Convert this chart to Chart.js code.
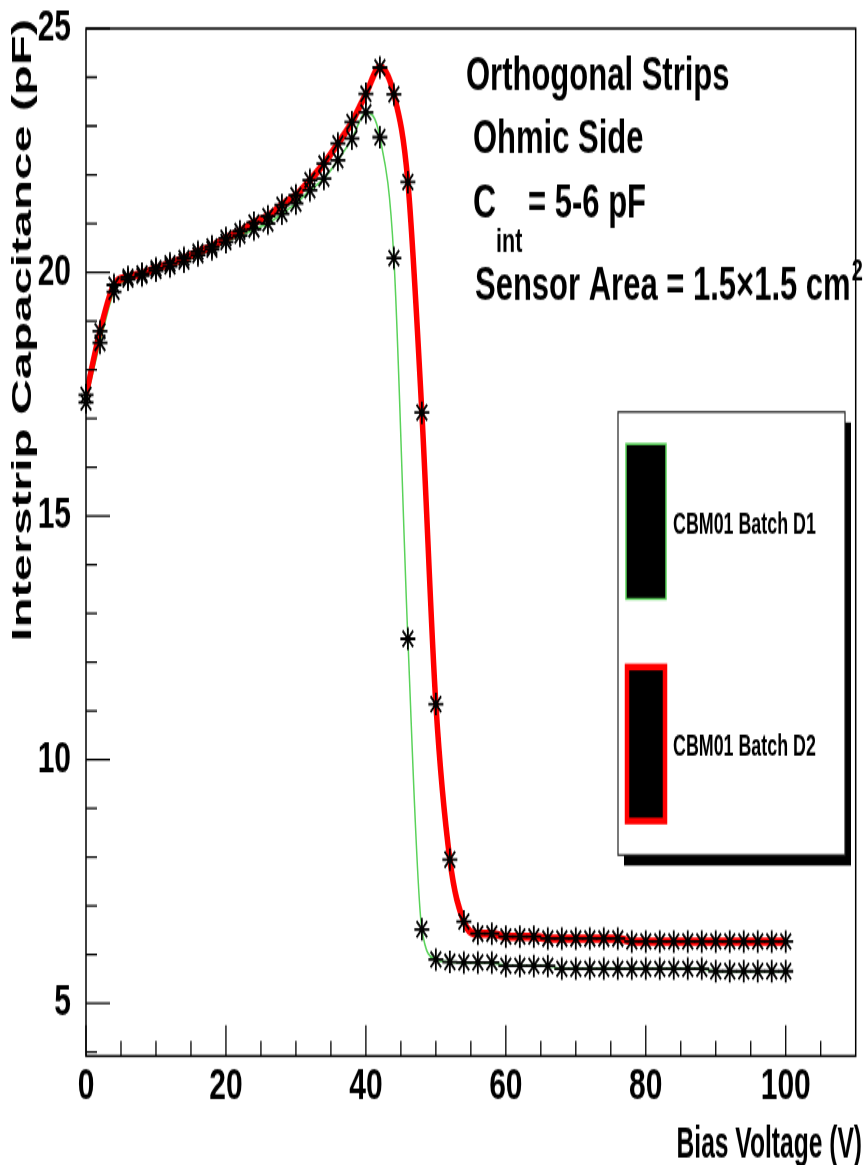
<!DOCTYPE html>
<html>
<head>
<meta charset="utf-8">
<script src="https://cdn.jsdelivr.net/npm/chart.js@4.4.1/dist/chart.umd.min.js"></script>
<style>
  html, body { margin: 0; padding: 0; background: #fff; overflow: hidden; }
  /* the original plot is a vertically stretched picture, so draw it squat and stretch it */
  #wrap { position: absolute; left: 0; top: 0; width: 865px; height: 777px;
          transform-origin: 0 0; transform: scale(1, 1.49936); }
</style>
</head>
<body>
<div id="wrap"><canvas id="c"></canvas></div>
<script>
const voltage = [0, 2, 4, 6, 8, 10, 12, 14, 16, 18, 20, 22, 24, 26, 28, 30, 32, 34, 36, 38,
  40, 42, 44, 46, 48, 50, 52, 54, 56, 58, 60, 62, 64, 66, 68, 70, 72, 74, 76, 78,
  80, 82, 84, 86, 88, 90, 92, 94, 96, 98, 100];

const batchD1 = [17.33, 18.55, 19.60, 19.85, 19.93, 20.03, 20.12, 20.22, 20.35, 20.47,
  20.62, 20.75, 20.88, 21.00, 21.20, 21.41, 21.68, 21.92, 22.30, 22.74,
  23.28, 22.77, 20.29, 12.48, 6.52, 5.90, 5.85, 5.84, 5.84, 5.84,
  5.77, 5.77, 5.77, 5.77, 5.71, 5.71, 5.71, 5.71, 5.71, 5.71,
  5.71, 5.71, 5.71, 5.71, 5.71, 5.66, 5.66, 5.66, 5.66, 5.66, 5.66];

const batchD2 = [17.48, 18.79, 19.74, 19.90, 19.97, 20.08, 20.18, 20.29, 20.42, 20.53,
  20.70, 20.84, 21.02, 21.15, 21.38, 21.58, 21.89, 22.23, 22.64, 23.08,
  23.66, 24.20, 23.65, 21.85, 17.12, 11.14, 7.95, 6.68, 6.43, 6.43,
  6.37, 6.37, 6.37, 6.33, 6.33, 6.33, 6.33, 6.33, 6.33, 6.27,
  6.27, 6.27, 6.27, 6.27, 6.27, 6.27, 6.27, 6.27, 6.27, 6.27, 6.27];

const xTicks = [0, 20, 40, 60, 80, 100];
const xMinorTicks = [5, 10, 15, 25, 30, 35, 45, 50, 55, 65, 70, 75, 85, 90, 95, 105];
const yTicks = [5, 10, 15, 20, 25];
const yMinorTicks = [4, 6, 7, 8, 9, 11, 12, 13, 14, 16, 17, 18, 19, 21, 22, 23, 24];

const seriesNames = ['CBM01 Batch D1', 'CBM01 Batch D2'];
const xTitle = 'Bias Voltage (V)';
const yTitle = 'Interstrip Capacitance (pF)';

const SY = 1165 / 777;          // vertical stretch of the page
const py = v => v / SY;          // page y -> canvas y
const SANS = '"Liberation Sans", Arial, Helvetica, sans-serif';
const NARROW = '"Liberation Sans Narrow", "Arial Narrow", "Liberation Sans", sans-serif';
const GREEN = '#5ad25a';
const RED = '#ff0000';

const pts = ys => voltage.map((v, i) => ({ x: v, y: ys[i] }));

function txt(ctx, s, x, y, size, o = {}) {
  ctx.save();
  ctx.font = 'bold ' + size + 'px ' + SANS;
  ctx.textAlign = o.align || 'left';
  ctx.textBaseline = o.base || 'alphabetic';
  ctx.fillStyle = '#000';
  ctx.translate(x, y);
  if (o.rot) ctx.rotate(o.rot);
  ctx.scale(o.sx || 1, 1);
  ctx.fillText(s, 0, 0);
  const w = ctx.measureText(s).width * (o.sx || 1);
  ctx.restore();
  return w;
}

const decorations = {
  id: 'decorations',
  afterDraw(chart) {
    const { ctx, chartArea: a, scales: { x, y } } = chart;
    ctx.save();
    ctx.strokeStyle = '#000';
    ctx.lineWidth = 1.5;
    ctx.strokeRect(a.left, a.top, a.right - a.left, a.bottom - a.top);

    // ROOT style ticks, pointing into the frame
    ctx.lineWidth = 1.3;
    ctx.beginPath();
    xTicks.concat(xMinorTicks).forEach(v => {
      const xp = x.getPixelForValue(v);
      const len = xTicks.includes(v) ? py(31) : py(15);
      ctx.moveTo(xp, a.bottom);
      ctx.lineTo(xp, a.bottom - len);
    });
    yTicks.concat(yMinorTicks).forEach(v => {
      const yp = y.getPixelForValue(v);
      const len = yTicks.includes(v) ? 24 : 11;
      ctx.moveTo(a.left, yp);
      ctx.lineTo(a.left + len, yp);
    });
    ctx.stroke();
    ctx.restore();

    // info text
    txt(ctx, 'Orthogonal Strips', 466, py(90), 31);
    txt(ctx, 'Ohmic Side', 473, py(153), 31);
    const wc = txt(ctx, 'C', 473, py(217), 32);
    txt(ctx, 'int', 473 + wc, py(252), 21.5);
    txt(ctx, '= 5-6 pF', 528, py(217), 31);
    const ws = txt(ctx, 'Sensor Area = 1.5\u00d71.5 cm', 475, py(300), 31);
    txt(ctx, '2', 475 + ws + 1, py(280), 20);

    // axis titles
    txt(ctx, xTitle, 862, py(1158), 30, { align: 'right', sx: 0.82 });
    txt(ctx, yTitle, 23, py(330), 28.5, { align: 'center', base: 'middle', rot: -Math.PI / 2, sx: 1.15 });

    // legend
    ctx.save();
    const L = 618, T = py(412), R = 845, B = py(855);
    ctx.fillStyle = '#000';
    ctx.fillRect(L + 6, T + 7, R - L, B - T);
    ctx.fillStyle = '#fff';
    ctx.fillRect(L, T, R - L, B - T);
    ctx.strokeStyle = '#222';
    ctx.lineWidth = 1.2;
    ctx.strokeRect(L, T, R - L, B - T);

    ctx.fillStyle = '#000';
    ctx.fillRect(626, py(444), 40, py(599) - py(444));
    ctx.strokeStyle = GREEN;
    ctx.lineWidth = 1.5;
    ctx.strokeRect(626, py(444), 40, py(599) - py(444));

    ctx.fillStyle = '#000';
    ctx.fillRect(627, py(667), 38, py(821) - py(667));
    ctx.strokeStyle = RED;
    ctx.lineWidth = 4.5;
    ctx.strokeRect(627, py(667), 38, py(821) - py(667));
    ctx.restore();

    txt(ctx, seriesNames[0], 673, py(534), 21, { sx: 0.85 });
    txt(ctx, seriesNames[1], 673, py(755), 21, { sx: 0.85 });
  }
};

const tickFont = { family: NARROW, size: 30, weight: 'bold', lineHeight: 0.8 };

new Chart(document.getElementById('c'), {
  type: 'line',
  data: {
    datasets: [
      { label: seriesNames[0], data: pts(batchD1), showLine: false, pointStyle: 'star',
        pointRadius: 7.5, pointBorderColor: '#000', pointBorderWidth: 1.8, order: 0, clip: false },
      { label: seriesNames[1], data: pts(batchD2), showLine: false, pointStyle: 'star',
        pointRadius: 7.5, pointBorderColor: '#000', pointBorderWidth: 1.8, order: 0, clip: false },
      { label: seriesNames[1], data: pts(batchD2), borderColor: RED, borderWidth: 5.5,
        pointRadius: 0, cubicInterpolationMode: 'monotone', order: 1 },
      { label: seriesNames[0], data: pts(batchD1), borderColor: GREEN, borderWidth: 1.5,
        pointRadius: 0, cubicInterpolationMode: 'monotone', order: 2 }
    ]
  },
  options: {
    responsive: true,
    maintainAspectRatio: false,
    animation: false,
    events: [],
    layout: { padding: { top: py(24), right: 2, left: 0, bottom: 0 } },
    plugins: { legend: { display: false }, tooltip: { enabled: false } },
    scales: {
      x: {
        type: 'linear', min: 0, max: 110,
        afterBuildTicks: s => { s.ticks = xTicks.map(v => ({ value: v })); },
        afterFit: s => { s.height = 777 - py(1056); },
        grid: { display: false }, border: { display: false },
        ticks: { color: '#000', font: tickFont, padding: 0, maxRotation: 0, autoSkip: false }
      },
      y: {
        type: 'linear', min: 3.92, max: 25,
        afterBuildTicks: s => { s.ticks = yTicks.map(v => ({ value: v })); },
        afterFit: s => { s.width = 86; },
        grid: { display: false }, border: { display: false },
        ticks: { color: '#000', font: tickFont, padding: 7, autoSkip: false }
      }
    }
  },
  plugins: [decorations]
});
</script>
</body>
</html>
